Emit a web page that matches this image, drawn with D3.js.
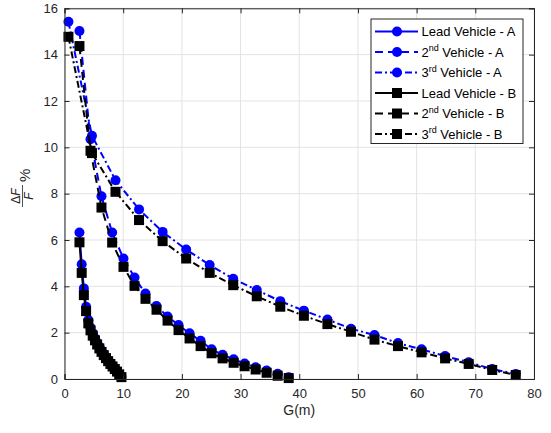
<!DOCTYPE html>
<html>
<head>
<meta charset="utf-8">
<script src="https://cdn.jsdelivr.net/npm/d3@7"></script>
<style>
body { margin: 0; background: #fff; }
text { font-family: "Liberation Sans", Arial, sans-serif; }
</style>
</head>
<body>
<script>
//data
var leadX = [2.55, 2.93, 3.30, 3.68, 4.06, 4.43, 4.81, 5.19, 5.56, 5.94, 6.31, 6.69, 7.07, 7.44, 7.82, 8.19, 8.57, 8.95, 9.32, 9.70];
var leadA = [6.32, 4.95, 3.91, 3.12, 2.54, 2.22, 1.98, 1.76, 1.57, 1.39, 1.23, 1.08, 0.94, 0.81, 0.69, 0.57, 0.45, 0.34, 0.22, 0.10];
var leadB = [5.90, 4.58, 3.62, 2.93, 2.40, 2.10, 1.87, 1.67, 1.49, 1.32, 1.17, 1.03, 0.90, 0.77, 0.65, 0.54, 0.43, 0.32, 0.20, 0.08];

var secondX = [2.55, 4.43, 6.30, 8.12, 10.05, 11.93, 13.80, 15.68, 17.56, 19.43, 21.31, 23.19, 25.06, 26.94, 28.82, 30.69, 32.57, 34.44, 36.32, 38.20];
var secondA = [15.02, 10.35, 7.89, 6.32, 5.20, 4.38, 3.69, 3.15, 2.70, 2.33, 1.97, 1.65, 1.28, 1.05, 0.85, 0.67, 0.51, 0.37, 0.23, 0.08];
var secondB = [14.37, 9.85, 7.40, 5.89, 4.84, 4.02, 3.46, 2.99, 2.52, 2.11, 1.75, 1.42, 1.11, 0.89, 0.70, 0.55, 0.41, 0.27, 0.14, 0.04];

var thirdX = [0.67, 4.68, 8.69, 12.70, 16.72, 20.73, 24.74, 28.75, 32.76, 36.77, 40.79, 44.80, 48.81, 52.82, 56.83, 60.84, 64.85, 68.87, 72.88, 76.89];
var thirdA = [15.42, 10.50, 8.58, 7.32, 6.35, 5.59, 4.92, 4.33, 3.84, 3.36, 2.95, 2.57, 2.17, 1.90, 1.55, 1.28, 0.99, 0.72, 0.43, 0.22];
var thirdB = [14.77, 9.75, 8.08, 6.86, 5.95, 5.20, 4.58, 4.05, 3.57, 3.12, 2.73, 2.37, 2.04, 1.70, 1.42, 1.15, 0.89, 0.65, 0.39, 0.17];

var xTicks = [0, 10, 20, 30, 40, 50, 60, 70, 80];
var yTicks = [0, 2, 4, 6, 8, 10, 12, 14, 16];

var seriesNames = ["Lead Vehicle - A", "2nd Vehicle - A", "3rd Vehicle - A", "Lead Vehicle - B", "2nd Vehicle - B", "3rd Vehicle - B"];

//plot box
var plotLeft = 64.5, plotRight = 534, plotTop = 8.3, plotBottom = 379;
var axisColor = "#262626";

var svg = d3.select("body").append("svg")
	.attr("width", 551)
	.attr("height", 433);

var x = d3.scaleLinear().domain([0, 80]).range([plotLeft, plotRight]);
var y = d3.scaleLinear().domain([0, 16]).range([plotBottom, plotTop]);

//grid
svg.append("g").selectAll("line").data(xTicks).enter().append("line")
	.attr("x1", function(d) { return x(d); })
	.attr("x2", function(d) { return x(d); })
	.attr("y1", plotTop).attr("y2", plotBottom)
	.attr("stroke", "#e3e3e3").attr("stroke-width", 1);
svg.append("g").selectAll("line").data(yTicks).enter().append("line")
	.attr("y1", function(d) { return y(d); })
	.attr("y2", function(d) { return y(d); })
	.attr("x1", plotLeft).attr("x2", plotRight)
	.attr("stroke", "#e3e3e3").attr("stroke-width", 1);

//series: styles per line
var styles = [
	{xs: leadX, ys: leadA, color: "#0000ff", dash: null, mark: "circle"},
	{xs: secondX, ys: secondA, color: "#0000ff", dash: "8,5", mark: "circle"},
	{xs: thirdX, ys: thirdA, color: "#0000ff", dash: "7,3,2,3", mark: "circle"},
	{xs: leadX, ys: leadB, color: "#000000", dash: null, mark: "square"},
	{xs: secondX, ys: secondB, color: "#000000", dash: "8,5", mark: "square"},
	{xs: thirdX, ys: thirdB, color: "#000000", dash: "7,3,2,3", mark: "square"}
];

var line = d3.line()
	.x(function(d) { return x(d[0]); })
	.y(function(d) { return y(d[1]); });

function drawMarks(g, pts, s) {
	if (s.mark == "circle") {
		g.selectAll("circle").data(pts).enter().append("circle")
			.attr("cx", function(d) { return x(d[0]); })
			.attr("cy", function(d) { return y(d[1]); })
			.attr("r", 5)
			.attr("fill", s.color);
	} else {
		g.selectAll("rect").data(pts).enter().append("rect")
			.attr("x", function(d) { return x(d[0]) - 5; })
			.attr("y", function(d) { return y(d[1]) - 5; })
			.attr("width", 10)
			.attr("height", 10)
			.attr("fill", s.color);
	}
}

styles.forEach(function(s) {
	var pts = s.xs.map(function(v, i) { return [v, s.ys[i]]; });
	var g = svg.append("g");
	g.append("path")
		.attr("d", line(pts))
		.attr("fill", "none")
		.attr("stroke", s.color)
		.attr("stroke-width", 2)
		.attr("stroke-dasharray", s.dash);
	drawMarks(g, pts, s);
});

function styleAxis(g) {
	g.select(".domain").attr("stroke", axisColor).attr("stroke-width", 1);
	g.selectAll(".tick line").attr("stroke", axisColor);
	g.selectAll(".tick text")
		.attr("fill", axisColor)
		.attr("font-size", 13)
		.style("font-family", "Liberation Sans, Arial, sans-serif");
}

//axes, ticks pointing inward like matlab
svg.append("g")
	.attr("transform", "translate(0," + plotBottom + ")")
	.call(d3.axisBottom(x).tickValues(xTicks).tickSize(-5).tickPadding(10))
	.call(styleAxis);
svg.append("g")
	.attr("transform", "translate(0," + plotTop + ")")
	.call(d3.axisTop(x).tickValues(xTicks).tickSize(-5).tickFormat(""))
	.call(styleAxis);
svg.append("g")
	.attr("transform", "translate(" + plotLeft + ",0)")
	.call(d3.axisLeft(y).tickValues(yTicks).tickSize(-5).tickPadding(6.5))
	.call(styleAxis);
svg.append("g")
	.attr("transform", "translate(" + plotRight + ",0)")
	.call(d3.axisRight(y).tickValues(yTicks).tickSize(-5).tickFormat(""))
	.call(styleAxis);

//x label
svg.append("text")
	.attr("x", (plotLeft + plotRight) / 2)
	.attr("y", 415)
	.attr("text-anchor", "middle")
	.attr("font-size", 14)
	.attr("fill", axisColor)
	.text("G(m)");

//y label, latex like fraction
var yl = svg.append("g").attr("transform", "translate(24,196) rotate(-90)");
yl.append("text")
	.attr("x", 0).attr("y", -4)
	.attr("text-anchor", "middle")
	.attr("font-size", 12)
	.attr("font-family", "DejaVu Serif, serif")
	.attr("fill", axisColor)
	.html("&#916;<tspan font-style='italic'>F</tspan>");
yl.append("line")
	.attr("x1", -11).attr("x2", 11)
	.attr("y1", -1.5).attr("y2", -1.5)
	.attr("stroke", axisColor).attr("stroke-width", 0.8);
yl.append("text")
	.attr("x", 0).attr("y", 9)
	.attr("text-anchor", "middle")
	.attr("font-size", 12)
	.attr("font-style", "italic")
	.attr("font-family", "DejaVu Serif, serif")
	.attr("fill", axisColor)
	.text("F");
yl.append("text")
	.attr("x", 14).attr("y", 6)
	.attr("font-size", 15)
	.attr("font-family", "DejaVu Serif, serif")
	.attr("fill", axisColor)
	.text("%");

//legend
var legend = svg.append("g").attr("transform", "translate(371,19)");
legend.append("rect")
	.attr("width", 152)
	.attr("height", 124.5)
	.attr("fill", "#fff")
	.attr("stroke", axisColor)
	.attr("stroke-width", 1);

styles.forEach(function(s, i) {
	var ry = 12.5 + i * 20.5;
	var row = legend.append("g");
	row.append("line")
		.attr("x1", 4).attr("x2", 47)
		.attr("y1", ry).attr("y2", ry)
		.attr("stroke", s.color)
		.attr("stroke-width", 2)
		.attr("stroke-dasharray", s.dash);
	if (s.mark == "circle") {
		row.append("circle").attr("cx", 26).attr("cy", ry).attr("r", 5).attr("fill", s.color);
	} else {
		row.append("rect").attr("x", 21).attr("y", ry - 5).attr("width", 10).attr("height", 10).attr("fill", s.color);
	}
	var t = row.append("text")
		.attr("x", 50.5)
		.attr("y", ry + 4.5)
		.attr("font-size", 13)
		.attr("fill", "#000");
	var name = seriesNames[i];
	var m = name.match(/^(\d)(nd|rd)(.*)$/);
	if (m) {
		t.append("tspan").text(m[1]);
		t.append("tspan").attr("dy", -5.5).attr("font-size", 9).text(m[2]);
		t.append("tspan").attr("dy", 5.5).text(m[3]);
	} else {
		t.text(name);
	}
});
</script>
</body>
</html>
